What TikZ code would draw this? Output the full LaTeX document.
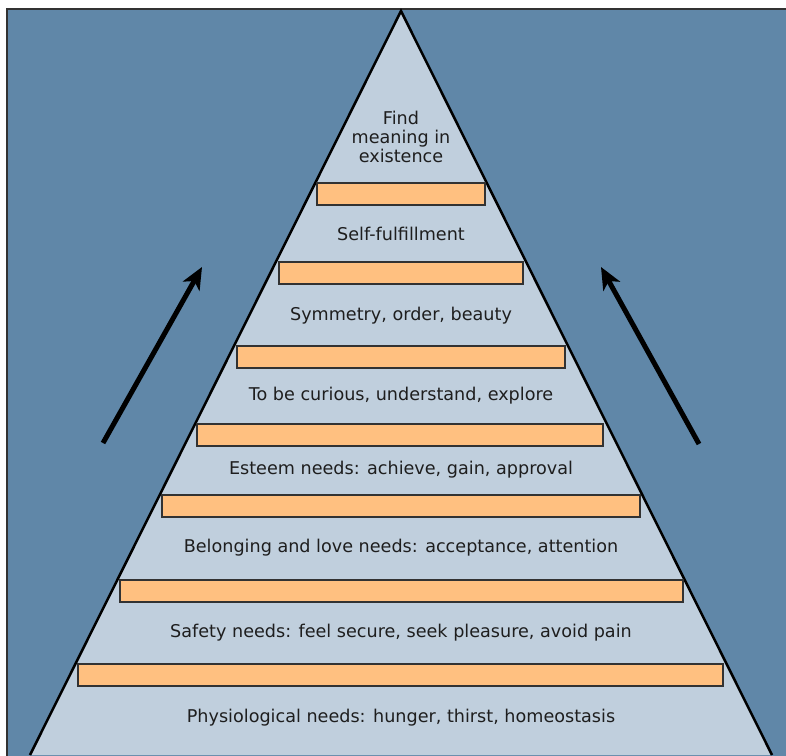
\documentclass[tikz,border=0pt]{standalone}
\usepackage{fontspec}
\setmainfont{DejaVu Sans}
\usetikzlibrary{arrows.meta}
\definecolor{bgblue}{RGB}{96,135,168}
\definecolor{pyrfill}{RGB}{192,207,221}
\definecolor{barfill}{RGB}{255,192,128}
\definecolor{txt}{RGB}{30,30,30}
\definecolor{edge}{RGB}{50,50,50}
\tikzset{
  bar/.style={draw=edge, line width=1.1pt, fill=barfill},
  lvl/.style={text=txt, font=\fontsize{17.6}{19}\selectfont, align=center, inner sep=0pt},
  uparrow/.style={line width=5pt, -{Stealth[length=22pt, width=19pt, inset=6pt]}},
}
\begin{document}
\begin{tikzpicture}[x=1pt,y=-1pt]
\useasboundingbox (0,0) rectangle (786,755);
\begin{scope}
\clip (0,0) rectangle (786,755);
\fill[white] (0,0) rectangle (786,755);
\filldraw[fill=bgblue, draw=edge, line width=1.2pt] (7,9) rectangle (800,770);
\coordinate (apex) at (401,11);
\coordinate (bl) at (30,755);
\coordinate (br) at (772,755);
\filldraw[fill=pyrfill, draw=black, line width=2.5pt] (bl) -- (apex) -- (br);
\end{scope}
% bars
\draw[bar] (317,183) rectangle (485,205);
\draw[bar] (279,262) rectangle (523,284);
\draw[bar] (237,346) rectangle (565,368);
\draw[bar] (197,424) rectangle (603,446);
\draw[bar] (162,495) rectangle (640,517);
\draw[bar] (120,580) rectangle (683,602);
\draw[bar] (78,664) rectangle (723,686);
% labels
\node[lvl] (t1) at (401,137) {Find\\meaning in\\existence};
\node[lvl] (t2) at (401,234) {Self-fulfillment};
\node[lvl] (t3) at (401,316) {Symmetry, order, beauty};
\node[lvl] (t4) at (401,396) {To be curious, understand, explore};
\node[lvl] (t5) at (401,470) {Esteem needs: achieve, gain, approval};
\node[lvl] (t6) at (401,548) {Belonging and love needs: acceptance, attention};
\node[lvl] (t7) at (401,633) {Safety needs: feel secure, seek pleasure, avoid pain};
\node[lvl] (t8) at (401,718) {Physiological needs: hunger, thirst, homeostasis};
% arrows
\coordinate (la0) at (103,443);
\coordinate (la1) at (202,267);
\coordinate (ra0) at (699,444);
\coordinate (ra1) at (601,267);
\draw[uparrow] (la0) -- (la1);
\draw[uparrow] (ra0) -- (ra1);
\end{tikzpicture}
\end{document}
